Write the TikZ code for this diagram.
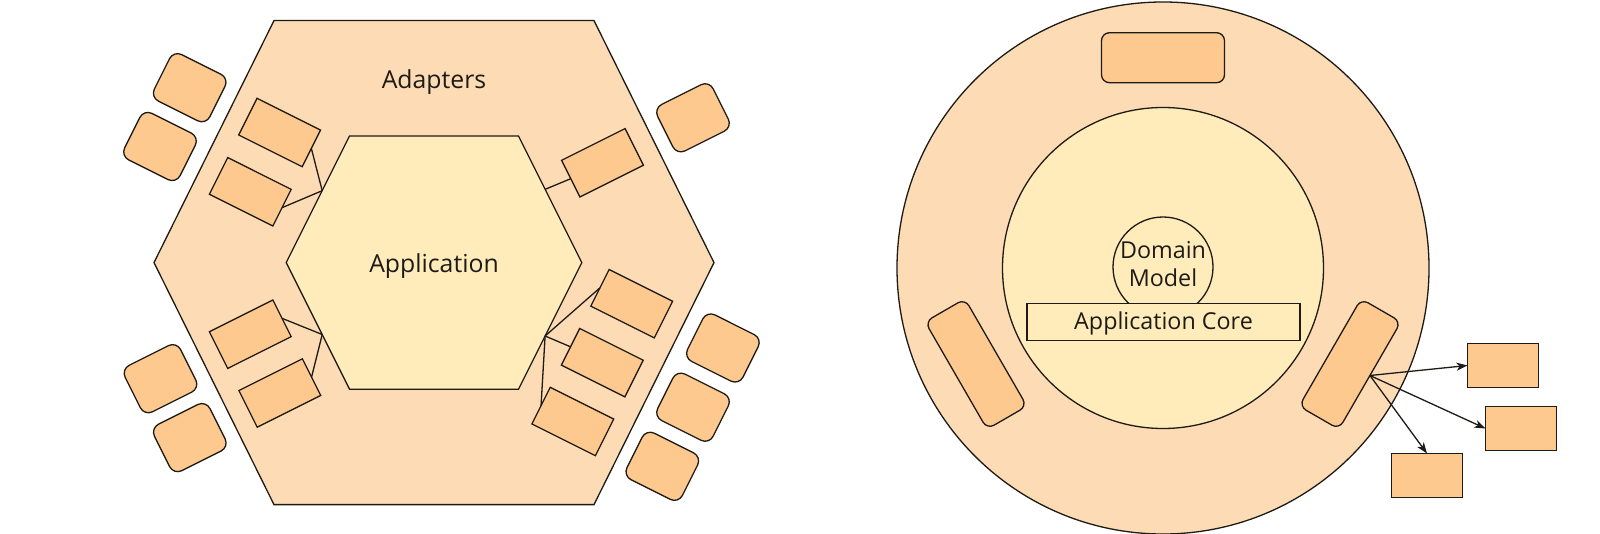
\documentclass[tikz,border=0pt]{standalone}
\usepackage{fontspec}
\setmainfont{Open Sans}
\usetikzlibrary{arrows.meta,shapes.geometric}
\definecolor{outercol}{RGB}{253,220,181}
\definecolor{innercol}{RGB}{255,236,186}
\definecolor{boxcol}{RGB}{253,201,142}
\definecolor{linecol}{RGB}{30,26,22}
\tikzset{
  every node/.style={inner sep=0pt, outer sep=0pt},
  shapeline/.style={draw=linecol, line width=1.3pt, line join=miter},
  adapterbox/.style={shapeline, fill=boxcol, rectangle, minimum width=71pt, minimum height=41pt},
  extbox/.style={shapeline, fill=boxcol, rectangle, rounded corners=9pt, minimum width=62pt, minimum height=52pt},
  portbox/.style={shapeline, fill=boxcol, rectangle, rounded corners=8pt, minimum width=46pt, minimum height=124pt},
  plainbox/.style={shapeline, fill=boxcol, rectangle, minimum width=71pt, minimum height=44pt},
  conn/.style={draw=linecol, line width=1.3pt},
  arr/.style={draw=linecol, line width=1.3pt, -{Stealth[length=11pt, width=8pt, inset=3pt]}},
  bigtext/.style={font=\fontsize{24.8}{29}\selectfont, text=linecol, anchor=base},
  coretext/.style={font=\fontsize{23.3}{28.5}\selectfont, text=linecol, align=center}
}
\begin{document}
\begin{tikzpicture}[x=1pt,y=-1pt]
\useasboundingbox (0,0) rectangle (1600,534);
\fill[white] (0,0) rectangle (1600,534);
% ---------- left: hexagonal architecture ----------
\draw[shapeline, fill=outercol] (274,20.6) -- (594,20.6) -- (714,262.6) -- (594,504.6) -- (274,504.6) -- (154,262.6) -- cycle;
\draw[shapeline, fill=innercol] (349.5,136) -- (518.5,136) -- (581.8,262.6) -- (518.5,389.2) -- (349.5,389.2) -- (286.2,262.6) -- cycle;
\node[bigtext] (adapters) at (434,88.3) {Adapters};
\node[bigtext] (application) at (434,272.7) {Application};
\coordinate (hUL) at (322.2,190.7);
\coordinate (hLL) at (322.2,334.5);
\coordinate (hUR) at (545.2,189.3);
\coordinate (hLR) at (545.1,336);
% adapters inside outer ring
\node[adapterbox, rotate=-26.57] (a1) at (279.6,132.5) {};
\node[adapterbox, rotate=-26.57] (a2) at (250.3,191.8) {};
\node[adapterbox, rotate=26.57] (a3) at (250.3,334.2) {};
\node[adapterbox, rotate=26.57] (a4) at (279.8,393) {};
\node[adapterbox, rotate=26.57] (a5) at (602.5,162.8) {};
\node[adapterbox, rotate=-26.57] (a6) at (631.7,303.7) {};
\node[adapterbox, rotate=-26.57] (a7) at (602.3,362.7) {};
\node[adapterbox, rotate=-26.57] (a8) at (572.8,421.5) {};
\draw[conn] (a1.east) -- (hUL);
\draw[conn] (a2.east) -- (hUL);
\draw[conn] (a3.east) -- (hLL);
\draw[conn] (a4.east) -- (hLL);
\draw[conn] (a5.west) -- (hUR);
\draw[conn] (a6.west) -- (hLR);
\draw[conn] (a7.west) -- (hLR);
\draw[conn] (a8.west) -- (hLR);
% external actors
\node[extbox, rotate=-26.57] (e1) at (189.7,87.7) {};
\node[extbox, rotate=-26.57] (e2) at (160,146.5) {};
\node[extbox, rotate=26.57] (e3) at (160.5,378.7) {};
\node[extbox, rotate=26.57] (e4) at (189.8,437.6) {};
\node[extbox, rotate=26.57] (e5) at (693,117.8) {};
\node[extbox, rotate=-26.57] (e6) at (722.9,348) {};
\node[extbox, rotate=-26.57] (e7) at (693,407.2) {};
\node[extbox, rotate=-26.57] (e8) at (662.3,466.3) {};
% ---------- right: onion ----------
\node[shapeline, fill=outercol, circle, minimum size=532pt] (outer) at (1163,268) {};
\node[shapeline, fill=innercol, circle, minimum size=321pt] (inner) at (1163,268) {};
\node[shapeline, fill=innercol, circle, minimum size=100pt] (domain) at (1163,267) {};
\node[coretext] (domaintext) at (1163,264) {Domain\\Model};
\node[shapeline, fill=innercol, rectangle, minimum width=273pt, minimum height=37pt] (core) at (1163.5,322) {};
\node[coretext, anchor=base] (coretxt) at (1163.5,329.3) {Application Core};
\node[shapeline, fill=boxcol, rectangle, rounded corners=8pt, minimum width=123pt, minimum height=50pt] (top) at (1163,57.7) {};
\node[portbox, rotate=30] (pl) at (976,364) {};
\node[portbox, rotate=-30] (pr) at (1350,364) {};
\node[plainbox] (bA) at (1503,365.5) {};
\node[plainbox] (bB) at (1521,428.5) {};
\node[plainbox] (bC) at (1427,475.5) {};
\draw[arr] (pr.east) -- (bA.west);
\draw[arr] (pr.east) -- (bB.west);
\draw[arr] (pr.east) -- (bC.north);
\end{tikzpicture}
\end{document}
